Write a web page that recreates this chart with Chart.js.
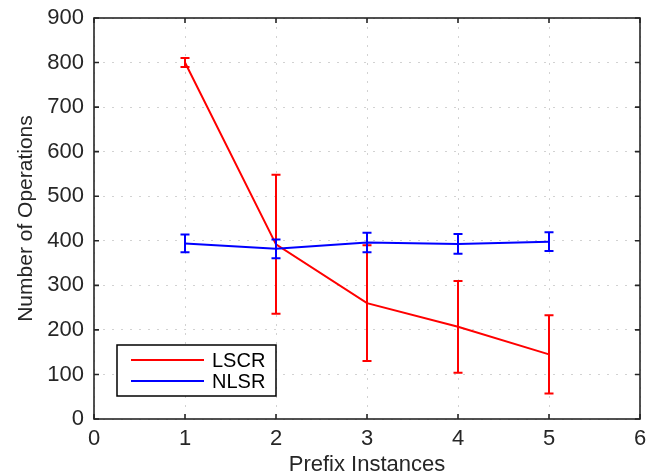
<!DOCTYPE html>
<html><head><meta charset="utf-8">
<script src="https://cdn.jsdelivr.net/npm/chart.js@4/dist/chart.umd.min.js"></script>
<style>html,body{margin:0;padding:0;background:#fff;}#wrap{width:654px;height:476px;}</style>
</head><body><div id="wrap"><canvas id="c" width="654" height="476"></canvas></div>
<script>
// ---- data ----
const instances = [1, 2, 3, 4, 5];
const lscrMean = [800, 392, 260, 207, 145];
const lscrErr  = [10, 156, 130, 103, 88];
const nlsrMean = [394, 382, 396, 393, 398];
const nlsrErr  = [20, 21, 22, 22, 21];
const seriesNames = ['LSCR', 'NLSR'];
const seriesColors = ['#ff0000', '#0000ff'];
const xTicks = [0, 1, 2, 3, 4, 5, 6];
const yTicks = [0, 100, 200, 300, 400, 500, 600, 700, 800, 900];
const xTitle = 'Prefix Instances';
const yTitle = 'Number of Operations';

const AXIS = '#262626';
const FONT = '"Liberation Sans", Arial, Helvetica, sans-serif';

const errs = [lscrErr, nlsrErr];

const plugin = {
  id: 'matlabFrame',
  afterDatasetDraw(chart, args) {
    const i = args.index;
    const ctx = chart.ctx, xs = chart.scales.x, ys = chart.scales.y;
    const ds = chart.data.datasets[i];
    ctx.save();
    ctx.strokeStyle = ds.borderColor;
    ctx.lineWidth = 2;
    ds.data.forEach((p, k) => {
      const e = errs[i][k];
      const px = xs.getPixelForValue(p.x);
      const yt = ys.getPixelForValue(p.y + e);
      const yb = ys.getPixelForValue(p.y - e);
      ctx.beginPath();
      ctx.moveTo(px, yt); ctx.lineTo(px, yb);
      ctx.moveTo(px - 4.5, yt); ctx.lineTo(px + 4.5, yt);
      ctx.moveTo(px - 4.5, yb); ctx.lineTo(px + 4.5, yb);
      ctx.stroke();
    });
    ctx.restore();
  },
  afterDraw(chart) {
    const ctx = chart.ctx, a = chart.chartArea, xs = chart.scales.x, ys = chart.scales.y;
    ctx.save();
    ctx.strokeStyle = AXIS;
    ctx.lineWidth = 1.6;
    ctx.strokeRect(a.left, a.top, a.right - a.left, a.bottom - a.top);
    ctx.beginPath();
    xTicks.forEach(v => {
      const px = xs.getPixelForValue(v);
      ctx.moveTo(px, a.bottom); ctx.lineTo(px, a.bottom - 5);
      ctx.moveTo(px, a.top); ctx.lineTo(px, a.top + 5);
    });
    yTicks.forEach(v => {
      const py = ys.getPixelForValue(v);
      ctx.moveTo(a.left, py); ctx.lineTo(a.left + 5, py);
      ctx.moveTo(a.right, py); ctx.lineTo(a.right - 5, py);
    });
    ctx.stroke();

    // legend
    const lx = a.left + 23, ly = a.bottom - 74, lw = 159, lh = 51;
    ctx.fillStyle = '#fff';
    ctx.fillRect(lx, ly, lw, lh);
    ctx.strokeStyle = '#000';
    ctx.lineWidth = 1.5;
    ctx.strokeRect(lx, ly, lw, lh);
    ctx.font = '20px ' + FONT;
    ctx.textBaseline = 'middle';
    ctx.textAlign = 'left';
    seriesNames.forEach((n, k) => {
      const yy = ly + 15 + k * 21;
      ctx.strokeStyle = seriesColors[k];
      ctx.lineWidth = 2;
      ctx.beginPath();
      ctx.moveTo(lx + 14, yy); ctx.lineTo(lx + 87, yy);
      ctx.stroke();
      ctx.fillStyle = '#000';
      ctx.fillText(n, lx + 95, yy + 1);
    });
    ctx.restore();
  }
};

new Chart(document.getElementById('c'), {
  type: 'line',
  data: {
    datasets: [
      { label: seriesNames[0], data: instances.map((x, k) => ({x, y: lscrMean[k]})),
        borderColor: seriesColors[0], backgroundColor: seriesColors[0], borderWidth: 2,
        pointRadius: 0, tension: 0, order: 1 },
      { label: seriesNames[1], data: instances.map((x, k) => ({x, y: nlsrMean[k]})),
        borderColor: seriesColors[1], backgroundColor: seriesColors[1], borderWidth: 2,
        pointRadius: 0, tension: 0, order: 0 }
    ]
  },
  options: {
    responsive: false,
    devicePixelRatio: 1,
    animation: false,
    layout: { padding: { top: 18, right: 14, left: 0, bottom: 0 } },
    plugins: { legend: { display: false }, tooltip: { enabled: false } },
    scales: {
      x: {
        type: 'linear', min: 0, max: 6,
        afterBuildTicks: s => { s.ticks = xTicks.map(v => ({value: v})); },
        afterFit: s => { s.height = 57; s.paddingLeft = 0; s.paddingRight = 0; },
        ticks: { color: AXIS, font: { family: FONT, size: 22 }, padding: 7, maxRotation: 0 },
        grid: { color: '#d2d2d2', lineWidth: 1, drawTicks: false },
        border: { display: false, dash: [2, 7] },
        title: { display: true, text: xTitle, color: AXIS, font: { family: FONT, size: 22, lineHeight: 1.0 }, padding: { top: 0, bottom: 0 } }
      },
      y: {
        type: 'linear', min: 0, max: 900,
        afterBuildTicks: s => { s.ticks = yTicks.map(v => ({value: v})); },
        afterFit: s => { s.width = 94; s.paddingTop = 0; s.paddingBottom = 0; },
        ticks: { color: AXIS, font: { family: FONT, size: 22 }, padding: 10 },
        grid: { color: '#d2d2d2', lineWidth: 1, drawTicks: false },
        border: { display: false, dash: [2, 7] },
        title: { display: true, text: yTitle, color: AXIS, font: { family: FONT, size: 21 }, padding: { top: 14, bottom: 0 } }
      }
    }
  },
  plugins: [plugin]
});
</script>
</body></html>
